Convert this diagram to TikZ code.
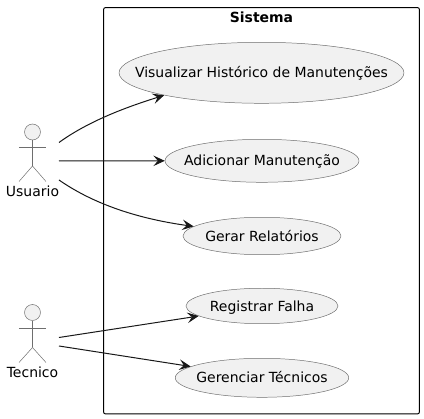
\documentclass[tikz,border=0pt]{standalone}
\usepackage{fontspec}
\setmainfont{DejaVu Sans}
\usetikzlibrary{shapes.geometric, arrows.meta, positioning}
\definecolor{usefill}{HTML}{F1F1F1}
\definecolor{useline}{HTML}{181818}
\definecolor{thinline}{HTML}{6E6E6E}
\newcommand{\usetext}[1]{\makebox[0pt]{\raisebox{0.4pt}{\vphantom{Ág}#1}}}

\begin{document}
\begin{tikzpicture}[
        x=0.02cm, y=-0.02cm,
        usecase/.style={ellipse, draw=thinline, fill=usefill, line width=0.28pt, inner sep=0pt, font=\fontsize{7.95}{9}\selectfont},
        head/.style={circle, draw=thinline, fill=usefill, line width=0.28pt, inner sep=0pt, minimum size=0.32cm},
        limb/.style={draw=thinline, line width=0.28pt},
        actorname/.style={inner sep=0pt, font=\fontsize{7.95}{9}\selectfont},
        frame/.style={rectangle, draw=black, rounded corners=1.2pt, line width=0.57pt, inner sep=0pt, minimum width=6.32cm, minimum height=8.13cm},
        flow/.style={-{Stealth[length=6.5pt, width=6pt, inset=2.6pt]}, line width=0.57pt, draw=useline}
    ]
        \useasboundingbox (0,0) rectangle (424,419);

        \node[frame] (sistema) at (261.5,210.75) {};
        \node[font=\fontsize{7.95}{9}\selectfont\bfseries, inner sep=0pt] (titulo) at (261.5,17.5) {Sistema};

        \node[usecase, minimum width=5.7cm, minimum height=1.22cm] (visualizar) at (261.5,72.8) {\usetext{Visualizar Histórico de Manutenções}};
        \node[usecase, minimum width=3.88cm, minimum height=0.86cm] (adicionar) at (262,160.8) {\usetext{Adicionar Manutenção}};
        \node[usecase, minimum width=3.16cm, minimum height=0.75cm] (gerar) at (262,236) {\usetext{Gerar Relatórios}};
        \node[usecase, minimum width=3.04cm, minimum height=0.71cm] (registrar) at (262,306) {\usetext{Registrar Falha}};
        \node[usecase, minimum width=3.47cm, minimum height=0.78cm] (gerenciar) at (262,377.8) {\usetext{Gerenciar Técnicos}};

        \node[head] (usuariohead) at (32.5,132) {};
        \coordinate (usuarioleft) at (19,147);
        \coordinate (usuarioright) at (46,147);
        \coordinate (usuariohip) at (32.5,166);
        \coordinate (usuariofootl) at (19,181.5);
        \coordinate (usuariofootr) at (46,181.5);
        \node[actorname] (usuario) at (32.5,191) {Usuario};
        \draw[limb] (usuariohead) -- (usuariohip);
        \draw[limb] (usuarioleft) -- (usuarioright);
        \draw[limb] (usuariofootl) -- (usuariohip) -- (usuariofootr);

        \node[head] (tecnicohead) at (32.5,312.5) {};
        \coordinate (tecnicoleft) at (19,328);
        \coordinate (tecnicoright) at (46,328);
        \coordinate (tecnicohip) at (32.5,347.5);
        \coordinate (tecnicofootl) at (19,362.5);
        \coordinate (tecnicofootr) at (46,362.5);
        \node[actorname] (tecnico) at (32.5,372) {Tecnico};
        \draw[limb] (tecnicohead) -- (tecnicohip);
        \draw[limb] (tecnicoleft) -- (tecnicoright);
        \draw[limb] (tecnicofootl) -- (tecnicohip) -- (tecnicofootr);

        \coordinate (usuarioa) at (59,142.5);
        \coordinate (usuariob) at (59,161);
        \coordinate (usuarioc) at (59,180);
        \coordinate (tecnicoa) at (59,337.5);
        \coordinate (tecnicob) at (59,346);

        \draw[flow] (usuarioa) .. controls (90,120) and (130,106) .. (visualizar.193.7);
        \draw[flow] (usuariob) -- (adicionar.west);
        \draw[flow] (usuarioc) .. controls (95,205) and (140,219) .. (gerar.172);
        \draw[flow] (tecnicoa) -- (registrar.189);
        \draw[flow] (tecnicob) -- (gerenciar.171.4);
    \end{tikzpicture}
\end{document}
